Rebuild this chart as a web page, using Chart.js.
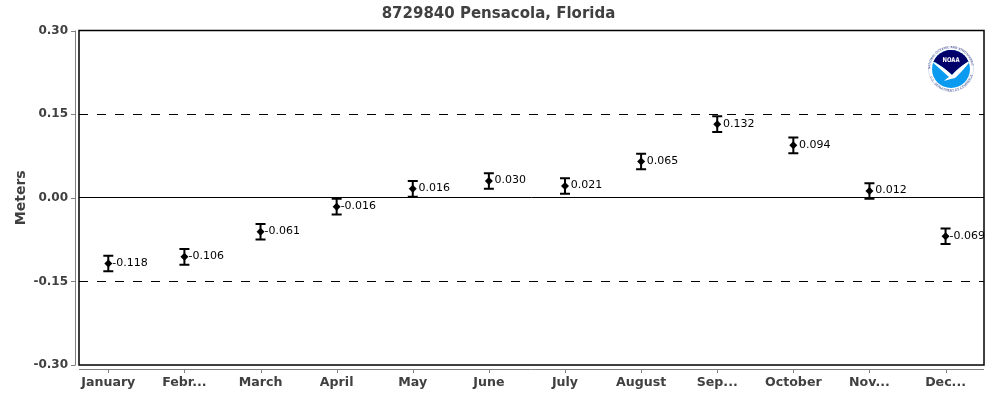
<!DOCTYPE html>
<html>
<head>
<meta charset="utf-8">
<title>8729840 Pensacola, Florida</title>
<script src="https://cdn.jsdelivr.net/npm/chart.js@4"></script>
<style>
    html, body { margin: 0; padding: 0; background: #fff; }
    #wrap { position: relative; width: 1000px; height: 400px; }
    #logo { position: absolute; left: 926px; top: 44px; }
</style>
</head>
<body>
<div id="wrap">
    <canvas id="myChart" width="1000" height="400"></canvas>
    <svg id="logo" width="50" height="50" viewBox="0 0 50 50">
        <defs>
            <path id="ringTop" d="M 4.2 25 A 20.8 20.8 0 0 1 45.8 25"></path>
            <path id="ringBottom" d="M 2.6 25 A 22.4 22.4 0 0 0 47.4 25"></path>
            <clipPath id="inner"><circle cx="25" cy="25" r="19"></circle></clipPath>
        </defs>
        <circle cx="25" cy="25" r="22.5" fill="#fff" stroke="#c4cbe0" stroke-width="0.6"></circle>
        <text font-family="DejaVu Sans" font-size="3" fill="#2a3a80" textLength="62"><textPath href="#ringTop">NATIONAL OCEANIC AND ATMOSPHERIC</textPath></text>
        <text font-family="DejaVu Sans" font-size="3" fill="#2a3a80" textLength="56"><textPath href="#ringBottom" startOffset="8">U.S. DEPARTMENT OF COMMERCE</textPath></text>
        <g clip-path="url(#inner)">
            <rect x="0" y="0" width="50" height="50" fill="#0a9af0"></rect>
            <path d="M 0 0 H 50 V 17 L 42 18 Q 33 23 26 31 Q 19 24 9 18 L 0 17 Z" fill="#00006b"></path>
            <path d="M 4 16 Q 17 22 26 31 Q 33 23 46 15 Q 37 27 29 34 Q 24 35 18 37 Q 21 34 23 33 Q 14 25 4 16 Z" fill="#fff"></path>
        </g>
        <text x="25" y="18" text-anchor="middle" font-family="DejaVu Sans" font-weight="bold" font-size="6.5" fill="#fff" textLength="17" lengthAdjust="spacingAndGlyphs">NOAA</text>
    </svg>
</div>
<script>
var chartTitle = "8729840 Pensacola, Florida";
var months = ["January","Febr...","March","April","May","June","July","August","Sep...","October","Nov...","Dec..."];
var trend = [-0.118,-0.106,-0.061,-0.016,0.016,0.030,0.021,0.065,0.132,0.094,0.012,-0.069];
var errorBars = [0.014,0.014,0.014,0.014,0.014,0.014,0.014,0.014,0.014,0.014,0.014,0.014];
var yTicks = [-0.30,-0.15,0.00,0.15,0.30];

var points = [];
for (var i = 0; i < trend.length; i++) {
    points.push({ x: i, y: trend[i] });
}

// axis lines sit a few px away from the plot frame, chart.js can't do that by itself
var framePlugin = {
    id: "frame",
    beforeDatasetsDraw: function (chart) {
        var c = chart.ctx, a = chart.chartArea, xs = chart.scales.x, ys = chart.scales.y;
        c.save();

        // title is centred on the whole page, not on the padded box
        c.font = "bold 15px 'DejaVu Sans'";
        c.fillStyle = "#404040";
        c.textAlign = "center";
        c.textBaseline = "middle";
        c.fillText(chartTitle, 498.5, 14);

        c.strokeStyle = "#808080";
        c.lineWidth = 1;
        c.beginPath();
        c.moveTo(75.5, a.top); c.lineTo(75.5, a.bottom);
        yTicks.forEach(function (t) {
            var py = Math.round(ys.getPixelForValue(t)) + 0.5;
            c.moveTo(71, py); c.lineTo(75.5, py);
        });
        c.moveTo(a.left, 369.5); c.lineTo(a.right, 369.5);
        months.forEach(function (m, n) {
            var px = Math.round(xs.getPixelForValue(n)) + 0.5;
            c.moveTo(px, 369.5); c.lineTo(px, 373);
        });
        c.stroke();

        c.strokeStyle = "#000";
        c.lineWidth = 1.5;
        c.strokeRect(a.left, a.top, a.right - a.left, a.bottom - a.top);

        // error bars
        c.lineWidth = 2;
        points.forEach(function (p, n) {
            var px = xs.getPixelForValue(p.x);
            var hi = ys.getPixelForValue(p.y + errorBars[n]);
            var lo = ys.getPixelForValue(p.y - errorBars[n]);
            c.beginPath();
            c.moveTo(px, hi); c.lineTo(px, lo);
            c.moveTo(px - 5, hi); c.lineTo(px + 5, hi);
            c.moveTo(px - 5, lo); c.lineTo(px + 5, lo);
            c.stroke();
        });
        c.restore();
    },
    afterDatasetsDraw: function (chart) {
        var c = chart.ctx, xs = chart.scales.x, ys = chart.scales.y;
        c.save();
        c.font = "11px 'DejaVu Sans'";
        c.fillStyle = "#000";
        c.textBaseline = "middle";
        points.forEach(function (p) {
            // the minus sign hugs the marker in the original
            var gap = p.y < 0 ? 4 : 5.7;
            c.fillText(p.y.toFixed(3), xs.getPixelForValue(p.x) + gap, ys.getPixelForValue(p.y) - 0.5);
        });
        c.restore();
    }
};

var ctx = document.getElementById("myChart").getContext("2d");

var trendChart = new Chart(ctx, {
    type: "scatter",
    data: {
        datasets: [
            {
                data: points,
                showLine: false,
                pointStyle: "rectRot",
                pointRadius: 4,
                backgroundColor: "#000",
                borderColor: "#000",
                borderWidth: 0
            }
        ]
    },
    plugins: [framePlugin],
    options: {
        responsive: false,
        animation: false,
        layout: { padding: { top: 30.5, right: 16 } },
        plugins: {
            legend: { display: false },
            tooltip: { enabled: false }
        },
        scales: {
            x: {
                type: "linear",
                min: -0.385,
                max: 11.505,
                afterBuildTicks: function (axis) {
                    axis.ticks = months.map(function (m, n) { return { value: n }; });
                },
                afterFit: function (axis) { axis.height = 35; },
                grid: { display: false, drawTicks: false },
                border: { display: false },
                ticks: {
                    autoSkip: false,
                    maxRotation: 0,
                    padding: 10,
                    color: "#404040",
                    font: { family: "DejaVu Sans", size: 12.6, weight: "bold" },
                    callback: function (v) { return months[v]; }
                }
            },
            y: {
                min: -0.30,
                max: 0.30,
                afterBuildTicks: function (axis) {
                    axis.ticks = yTicks.map(function (t) { return { value: t }; });
                },
                afterFit: function (axis) { axis.width = 79; },
                grid: {
                    drawTicks: false,
                    color: function (c) {
                        return c.tick && Math.abs(c.tick.value) === 0.30 ? "rgba(0,0,0,0)" : "#000";
                    },
                    lineWidth: 1
                },
                border: {
                    display: false,
                    dash: function (c) { return c.tick && c.tick.value === 0 ? [] : [9, 9]; }
                },
                ticks: {
                    padding: 11,
                    color: "#404040",
                    font: { family: "DejaVu Sans", size: 12, weight: "bold" },
                    callback: function (v) { return v.toFixed(2); }
                },
                title: {
                    display: true,
                    text: "Meters",
                    color: "#404040",
                    font: { family: "DejaVu Sans", size: 14, weight: "bold" },
                    padding: { top: 13, bottom: 0 }
                }
            }
        }
    }
});
</script>
</body>
</html>
